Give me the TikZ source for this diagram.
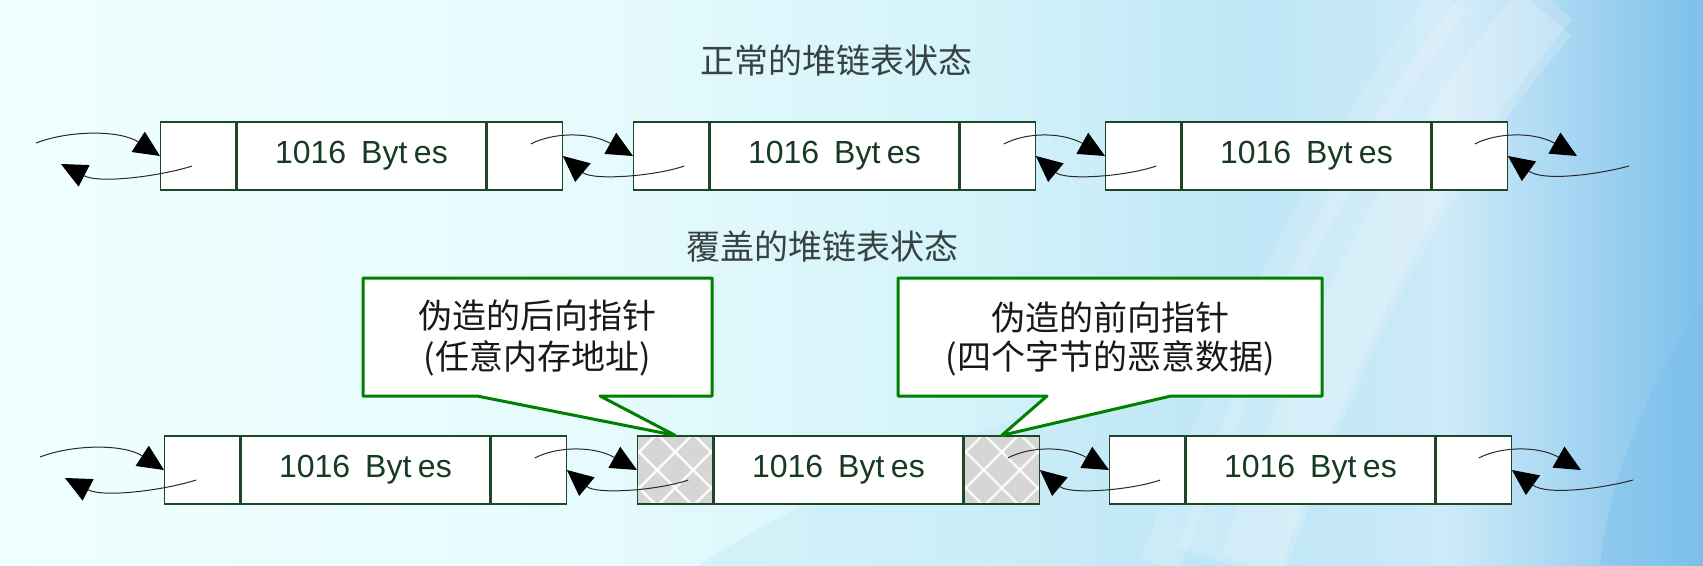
\documentclass[tikz,border=0pt]{standalone}
\usepackage{fontspec}
\setmainfont{Liberation Sans}
\newfontfamily\cjk{Noto Sans CJK SC}
\usetikzlibrary{arrows.meta,calc}
\definecolor{bg0}{RGB}{240,255,255}
\definecolor{bg1}{RGB}{230,251,253}
\definecolor{bg2}{RGB}{210,242,250}
\definecolor{bg3}{RGB}{190,230,246}
\definecolor{bg4}{RGB}{205,234,248}
\definecolor{bg5}{RGB}{125,192,235}
\definecolor{boxc}{RGB}{28,72,40}
\definecolor{bytec}{RGB}{22,58,34}
\definecolor{titlec}{RGB}{55,66,66}
\definecolor{callc}{RGB}{0,128,0}
\definecolor{cellgray}{RGB}{214,214,214}
\definecolor{linec}{RGB}{40,40,40}
\newcommand\bytestext{1016\hspace{15pt}Byt\hspace{6.5pt}es}
\newcommand\heapchunk[5]{%
  \node[cell,#4,minimum width=75pt] (#11) at (#2,#3) {};
  \node[cell,minimum width=249pt] (#12) at (#11.east) {\bytestext};
  \node[cell,#5,minimum width=75pt] (#13) at (#12.east) {};
}
\newcommand\fwdlink[2]{\draw[link] ($(#1.center)+(6,-12)$) .. controls +(23,-12) and +(-43,-24) .. (#2.west);}
\newcommand\backlink[2]{\draw[link] ($(#1.center)+(13,10)$) .. controls +(-28,10) and +(30,25) .. (#2.east);}
\begin{document}
\begin{tikzpicture}[x=1pt,y=-1pt,
  cell/.style={draw=boxc,fill=white,line width=1.3pt,minimum height=68pt,inner sep=0pt,anchor=west,
    text=bytec,font=\fontsize{32}{38}\selectfont},
  graycell/.style={fill=cellgray,path picture={
    \foreach \k in {-3,...,3}{
      \draw[white,line width=2.4pt,opacity=0.9] ($(path picture bounding box.center)+(\k*36+18-60,-60)$) -- ++(120,120);
      \draw[white,line width=2.4pt,opacity=0.9] ($(path picture bounding box.center)+(\k*36+18+60,-60)$) -- ++(-120,120);
    }}},
  plain/.style={},
  link/.style={draw=linec,line width=1pt,-{Triangle[length=26pt,width=24pt,color=black]}},
  title/.style={text=titlec,font=\cjk\fontsize{34}{40}\selectfont,inner sep=0pt},
  ctext/.style={text=black!90,font=\cjk\fontsize{34}{40}\selectfont,inner sep=0pt},
  callout/.style={draw=callc,fill=white,line width=3pt,line join=round}]
\useasboundingbox (0,0) rectangle (1703,565);
% background
\fill[left color=bg0,right color=bg1] (0,0) rectangle (601,565);
\fill[left color=bg1,right color=bg2] (600,0) rectangle (1001,565);
\fill[left color=bg2,right color=bg3] (1000,0) rectangle (1251,565);
\fill[left color=bg3,right color=bg4] (1250,0) rectangle (1451,565);
\fill[left color=bg4,right color=bg5] (1450,0) rectangle (1703,565);
\fill[bg3,opacity=0.35] (700,565) .. controls (900,430) and (1100,420) .. (1250,300) -- (1250,565) -- cycle;
\draw[white,opacity=0.18,line width=110pt] (1230,565) .. controls (1300,360) and (1390,160) .. (1530,0);
\draw[white,opacity=0.18,line width=60pt] (1250,565) .. controls (1320,360) and (1410,160) .. (1550,0);
\draw[white,opacity=0.15,line width=40pt] (1160,565) .. controls (1230,380) and (1320,170) .. (1450,0);
\fill[bg5,opacity=0.45] (1703,300) .. controls (1640,400) and (1610,480) .. (1600,565) -- (1703,565) -- cycle;
% titles
\node[title] (t1) at (836,61) {正常的堆链表状态};
\node[title] (t2) at (822,247) {覆盖的堆链表状态};
% row 1
\heapchunk{A}{160}{156}{plain}{plain}
\heapchunk{B}{633}{156}{plain}{plain}
\heapchunk{C}{1105}{156}{plain}{plain}
% row 2
\heapchunk{D}{164}{470}{plain}{plain}
\heapchunk{E}{637}{470}{graycell}{graycell}
\heapchunk{F}{1109}{470}{plain}{plain}
% free ends
\coordinate (l1) at (36,143);
\coordinate (l1b) at (61,164);
\coordinate (r1) at (1577,156);
\coordinate (r1b) at (1629,166);
\coordinate (l2) at (40,457);
\coordinate (l2b) at (65,478);
\coordinate (r2) at (1581,470);
\coordinate (r2b) at (1633,480);
% row 1 links
\draw[link] (l1) .. controls +(34,-13) and +(-40,-26) .. (A1.west);
\draw[link] ($(A1.center)+(-6,10)$) .. controls +(-31,10) and +(39,20) .. (l1b);
\fwdlink{A3}{B1}
\backlink{B1}{A3}
\fwdlink{B3}{C1}
\backlink{C1}{B3}
\draw[link] ($(C3.center)+(5,-12)$) .. controls +(23,-12) and +(-42,-24) .. (r1);
\draw[link] (r1b) .. controls +(-29,8) and +(36,26) .. (C3.east);
% row 2 links
\draw[link] (l2) .. controls +(34,-13) and +(-40,-26) .. (D1.west);
\draw[link] ($(D1.center)+(-6,10)$) .. controls +(-31,10) and +(39,20) .. (l2b);
\fwdlink{D3}{E1}
\backlink{E1}{D3}
\fwdlink{E3}{F1}
\backlink{F1}{E3}
\draw[link] ($(F3.center)+(5,-12)$) .. controls +(23,-12) and +(-42,-24) .. (r2);
\draw[link] (r2b) .. controls +(-29,8) and +(36,26) .. (F3.east);
% callouts
\draw[callout] (363,278) -- (712,278) -- (712,396) -- (600,396) -- (E1.north) -- (477,396) -- (363,396) -- cycle;
\draw[callout] (898,278) -- (1322,278) -- (1322,396) -- (1171,396) -- (E3.north) -- (1047,396) -- (898,396) -- cycle;
\node[ctext] (c1a) at (537,316) {伪造的后向指针};
\node[ctext] (c1b) at (537,358) {(任意内存地址)};
\node[ctext] (c2a) at (1110,317) {伪造的前向指针};
\node[ctext] (c2b) at (1110,358) {(四个字节的恶意数据)};
\end{tikzpicture}
\end{document}
